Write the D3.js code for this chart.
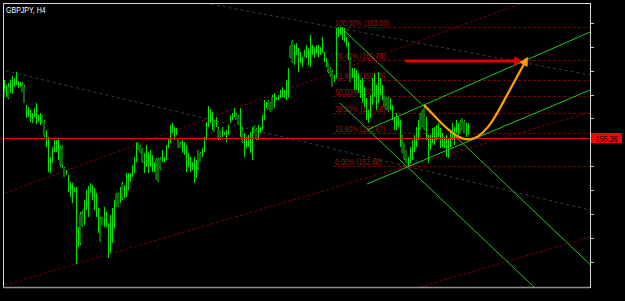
<!DOCTYPE html>
<html><head><meta charset="utf-8">
<script src="https://cdn.jsdelivr.net/npm/d3@7"></script>
<style>body{margin:0;background:#000;overflow:hidden}</style>
</head><body>
<script>
// GBPJPY H4 bars (price)
const highs=[159.35,159.00,159.14,159.35,159.62,159.48,159.90,159.28,159.21,159.21,
159.00,157.63,157.49,157.28,157.08,157.42,157.76,156.94,157.08,156.94,
156.59,155.91,155.42,154.05,154.74,155.22,155.22,155.29,154.81,154.87,
153.36,153.15,152.81,152.33,152.26,151.98,151.98,149.23,150.26,150.40,
151.09,151.78,152.05,152.26,152.12,151.92,151.57,150.54,149.92,149.92,
150.61,150.26,149.51,150.06,150.54,151.09,151.57,151.57,151.98,
152.33,152.12,152.95,152.95,152.95,153.50,154.05,155.08,155.01,154.87,154.67,
154.32,154.87,154.39,154.53,154.19,153.70,153.98,153.98,154.05,154.53,
154.05,154.87,155.36,156.25,156.39,156.11,156.04,155.36,155.08,155.22,
155.08,154.87,154.32,154.05,153.70,154.05,153.84,154.53,154.39,154.67,
155.42,156.46,157.56,157.35,157.14,156.59,156.80,156.11,155.91,156.11,
155.77,155.91,156.25,156.94,157.08,157.42,157.08,156.94,
157.42,156.11,155.70,155.42,155.56,155.77,156.11,156.25,156.04,156.25,156.11,156.94,
157.97,157.83,157.97,157.83,158.31,158.45,158.18,158.31,158.66,158.86,
158.66,159.35,160.17,161.75,162.10,161.75,161.89,161.55,161.27,160.93,
161.41,161.75,161.55,162.44,161.75,161.62,161.75,161.75,161.62,162.30,
161.27,160.86,160.52,160.24,160.03,159.69,162.92,163.03,162.92,162.99,
162.96,162.30,161.96,160.86,160.17,160.17,
160.03,159.83,159.35,159.48,158.86,158.11,157.28,158.31,159.48,159.83,
159.00,159.90,159.48,159.00,158.31,158.18,158.18,158.11,157.63,156.80,
157.08,156.80,156.59,155.56,155.01,154.53,154.05,154.74,155.22,155.56,
156.11,156.59,157.08,157.28,157.49,156.80,155.56,155.56,156.04,156.11,
156.25,156.39,156.04,155.70,155.42,155.56,155.36,155.91,156.39,156.11,
156.59,156.39,156.59,156.73,156.59,156.39,156.39];
const lows=[158.11,158.18,158.04,158.45,158.38,158.86,159.00,158.80,158.86,158.52,
157.76,156.73,156.80,156.46,156.39,156.80,156.32,156.46,156.25,156.39,
155.42,154.74,153.02,152.95,153.64,154.39,154.39,153.84,153.36,153.29,
152.67,152.81,151.64,151.30,150.88,151.64,146.69,147.86,147.99,149.23,
149.37,150.40,149.92,151.57,151.09,150.40,149.92,148.82,148.20,149.37,
149.23,149.23,147.10,147.44,148.13,149.16,150.61,150.61,150.88,
151.09,151.23,151.30,151.78,152.33,152.67,152.95,153.70,154.53,154.32,153.64,
152.95,153.36,152.95,153.36,153.02,153.02,152.47,152.33,153.15,153.70,
153.70,153.84,154.67,155.01,155.70,155.22,155.56,154.67,154.67,154.32,
154.19,153.02,153.36,153.02,153.15,152.26,152.60,153.15,153.70,154.05,
154.39,155.22,156.11,156.39,155.91,155.77,156.11,155.22,155.22,155.42,
155.56,155.08,155.56,156.39,156.59,156.80,156.59,156.25,
155.42,155.01,154.05,154.67,154.74,154.32,153.84,155.70,155.22,155.22,155.70,155.91,
156.59,157.42,157.28,157.14,157.28,157.42,157.97,157.97,158.11,158.18,
158.11,157.97,158.11,160.86,160.52,160.38,161.07,159.90,160.52,160.24,
160.93,160.86,160.38,160.24,161.07,160.86,161.20,160.93,161.07,161.20,
160.58,160.24,159.83,159.55,158.86,159.21,159.48,162.30,162.44,162.10,
161.96,161.62,160.72,159.21,159.48,158.66,
158.66,158.45,158.11,157.76,157.49,156.59,156.39,156.73,157.63,158.18,
157.28,157.76,158.31,157.97,157.49,157.28,157.14,157.28,156.59,155.91,
155.91,156.11,154.74,154.32,153.84,153.64,153.40,153.64,153.84,154.39,
154.74,155.22,155.91,156.11,155.91,155.22,153.64,154.53,155.01,154.87,
155.22,155.42,154.67,154.74,154.67,154.05,153.98,154.74,155.22,154.87,
155.70,155.56,155.70,155.91,155.70,155.42,155.56];
// bearish bars: [bar index, open, close]
const bears=[[0,158.66,158.11],[2,158.9,158.1],[9,159.1,158.5],[10,158.9,157.8],[19,156.9,156.4],
[20,156.5,155.5],[28,154.7,153.5],[29,154.8,153.4],[30,153.3,152.7],[38,150.1,148.1],[39,150.3,149.3],
[48,149.8,148.3],[49,149.9,149.4],[56,151.5,150.7],[57,151.5,150.7],[59,152.2,151.2],[67,155.0,154.5],
[68,154.8,154.4],[69,154.6,153.7],[76,153.9,152.5],[77,153.9,152.4],[78,154.0,153.2],[87,155.3,154.7],
[88,155.0,154.7],[97,154.5,153.2],[98,154.3,153.7],[105,156.5,155.8],[107,156.0,155.3],[108,155.9,155.3],
[116,157.0,156.6],[117,156.9,156.3],[119,156.0,155.1],[125,156.2,155.7],[126,156.0,155.3],[132,157.9,157.3],
[133,157.8,157.2],[134,158.2,157.3],[143,161.7,160.9],[144,162.0,160.6],[162,160.5,159.9],[163,160.2,159.6],
[164,160.0,158.9],[173,160.8,159.3],[190,158.3,157.5],[191,158.1,157.3],[192,158.1,157.2],[199,155.5,154.4],
[200,155.0,153.9],[201,154.5,153.7],[208,157.0,156.0],[209,157.2,156.2],[210,157.4,156.0],[228,156.5,155.7],
[229,156.7,155.9],[230,156.5,155.7]];

const fibHigh=163.03, fibLow=153.40, fibStart=164.5;
const fibLevels=[0,23.6,38.2,50,61.8,76.4,100];
const priceTicks=[146.80,148.45,150.10,151.75,153.40,155.05,156.70,158.35,160.00,161.65,163.30];
const hLine=155.36;
// drawn objects: anchors as [bar index, price]
const greyLines=[[[100.5,164.64],[293,159.69]],[[1,159.97],[293,150.40]]];
const redLines=[[[0.5,151.57],[259,164.64]],[[0.5,145.24],[293,157.14]],[[208,145.10],[293,148.54]]];
const greenLines=[[[168,163.03],[293,146.65]],[[168,157.76],[265,145.10]],
                  [[181.5,155.91],[293,162.65]],[[181.5,152.19],[293,158.66]]];
const redArrow=[[200.5,160.65],[256.5,160.65]];
const orangeCurve=[[210,157.63],[218,156.46],[224,155.70],[229,155.29],[233,155.22],[237,155.42],
                   [242,156.04],[247,157.14],[252,158.45],[257,159.69],[260.5,160.58]];

const W=625,H=301;
const x=d3.scaleLinear().domain([0,293]).range([4,590]);
const y=d3.scaleLinear().domain([145.10,164.65]).range([287,3]);

const svg=d3.select("body").append("svg").attr("width",W).attr("height",H)
  .style("background","#000").style("display","block");
svg.append("clipPath").attr("id","clip").append("rect")
  .attr("x",4).attr("y",4).attr("width",586).attr("height",283);
const plot=svg.append("g").attr("clip-path","url(#clip)");

const seg=d3.line().x(d=>x(d[0])).y(d=>y(d[1]));

// trend lines
plot.selectAll(".grey").data(greyLines).enter().append("path")
  .attr("d",seg).attr("stroke","#3c3c3c").attr("stroke-dasharray","3,3").attr("fill","none");
plot.selectAll(".dred").data(redLines).enter().append("path")
  .attr("d",seg).attr("stroke","#7a0000").attr("stroke-dasharray","3,2").attr("fill","none");

// fibonacci
const fibY=l=>fibLow+(fibHigh-fibLow)*l/100;
fibLevels.forEach(l=>{
  let yy=Math.round(y(fibY(l)))+0.5;
  plot.append("line").attr("x1",x(fibStart)).attr("x2",590).attr("y1",yy).attr("y2",yy)
    .attr("stroke","#7a0000").attr("stroke-dasharray","3,2");
  plot.append("text").attr("transform","translate(335,"+(yy-2)+") scale(0.8,1)")
    .attr("font-family","Liberation Sans").attr("font-size",8.5).attr("fill","#a01010")
    .text(l.toFixed(2)+"% ("+fibY(l).toFixed(2)+")");
});

// candles
const bars=plot.append("g").attr("shape-rendering","crispEdges");
highs.forEach((h,i)=>{
  let cx=Math.round(x(i))+0.5;
  bars.append("line").attr("x1",cx).attr("x2",cx).attr("y1",y(h)).attr("y2",y(lows[i]))
    .attr("stroke","#00e400");
});
bears.forEach(b=>{
  let cx=Math.round(x(b[0]));
  bars.append("rect").attr("x",cx-1).attr("width",2)
    .attr("y",y(b[1])).attr("height",Math.max(1,y(b[2])-y(b[1])))
    .attr("fill","#0a6a0a");
});

// horizontal line
plot.append("line").attr("x1",4).attr("x2",590)
  .attr("y1",Math.round(y(hLine))+0.5).attr("y2",Math.round(y(hLine))+0.5)
  .attr("stroke","#ff0000").attr("stroke-width",1.2);

// channel lines
plot.selectAll(".grn").data(greenLines).enter().append("path")
  .attr("d",seg).attr("stroke","#20c820").attr("fill","none");

// red arrow
plot.append("path").attr("d",seg(redArrow)).attr("stroke","#e00000").attr("stroke-width",3);
let ax=x(redArrow[1][0]), ay=y(redArrow[1][1]);
plot.append("path").attr("d","M"+(ax+6)+","+ay+"L"+(ax-3)+","+(ay-4.5)+"L"+(ax-3)+","+(ay+4.5)+"Z")
  .attr("fill","#e00000");

// orange curve
plot.append("path").attr("d",d3.line().x(d=>x(d[0])).y(d=>y(d[1])).curve(d3.curveBasis)(orangeCurve))
  .attr("stroke","#ffa000").attr("stroke-width",2.2).attr("fill","none");
let p1=orangeCurve[orangeCurve.length-2], p2=orangeCurve[orangeCurve.length-1];
let ang=Math.atan2(y(p2[1])-y(p1[1]),x(p2[0])-x(p1[0]))*180/Math.PI;
plot.append("path").attr("d","M6,0L-3,-4.5L-3,4.5Z").attr("fill","#ffa000")
  .attr("transform","translate("+x(p2[0])+","+y(p2[1])+") rotate("+ang+")");

// frame and price scale
svg.append("rect").attr("x",3.5).attr("y",3.5).attr("width",586.5).attr("height",283.5)
  .attr("fill","none").attr("stroke","#d8d8d8").attr("shape-rendering","crispEdges");
svg.append("line").attr("x1",3).attr("x2",590).attr("y1",287.5).attr("y2",287.5)
  .attr("stroke","#909090").attr("stroke-width",1.5);
const ax2=svg.append("g").attr("transform","translate(590,0)")
  .call(d3.axisRight(y).tickValues(priceTicks).tickSize(4).tickFormat(""));
ax2.select(".domain").remove();
ax2.selectAll("line").attr("stroke","#c8c8c8").attr("shape-rendering","crispEdges");

let ly=Math.round(y(hLine));
svg.append("rect").attr("x",591).attr("y",ly-5).attr("width",31).attr("height",10).attr("fill","#ff0000");
svg.append("text").attr("transform","translate(606.5,"+(ly+3.5)+") scale(0.85,1)")
  .attr("text-anchor","middle").attr("font-family","Liberation Sans").attr("font-size",8.5)
  .attr("fill","#000").text(hLine.toFixed(2));

svg.append("text").attr("transform","translate(6,13) scale(0.78,1)")
  .attr("font-family","Liberation Sans").attr("font-size",9).attr("fill","#ffffff")
  .text("GBPJPY, H4");
</script>
</body></html>
